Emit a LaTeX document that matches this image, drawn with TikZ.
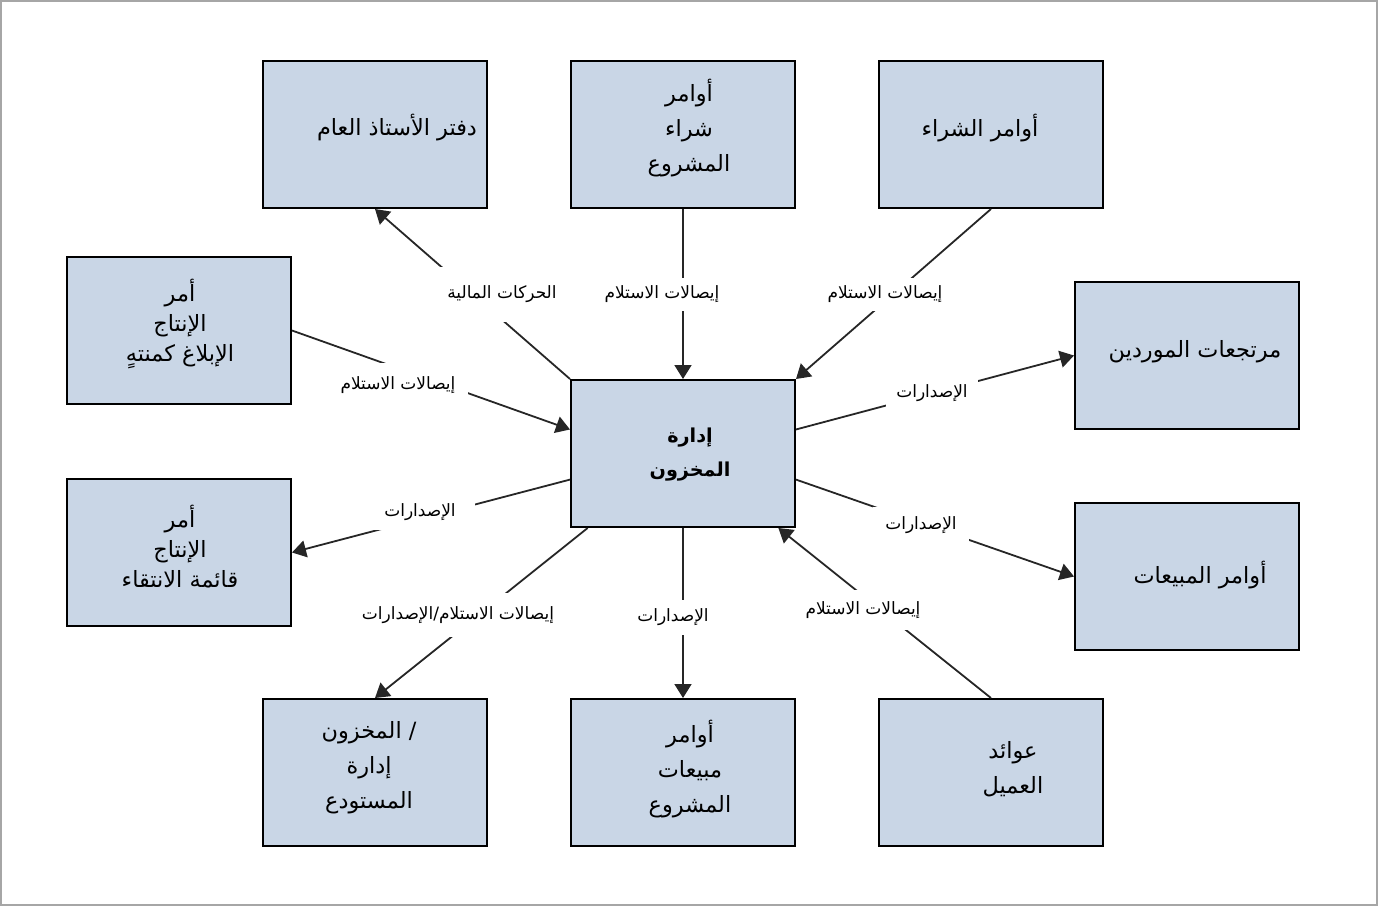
\documentclass[tikz,border=0pt]{standalone}
\usepackage{fontspec}
\setmainfont{DejaVu Sans}
\newfontfamily\arabicfont[Script=Arabic]{DejaVu Sans}
\TeXXeTstate=1
\usetikzlibrary{arrows.meta}
\definecolor{boxblue}{HTML}{C9D6E6}
\definecolor{framegray}{HTML}{A6A6A6}
\newcommand{\artxt}[1]{\beginR #1\endR}

\begin{document}
\begin{tikzpicture}[x=0.5pt,y=-0.5pt,
  >={Triangle[width=8.5pt,length=7pt]},
  box/.style={draw=black,line width=1pt,fill=boxblue,minimum width=112pt,minimum height=73.5pt,inner sep=0pt},
  boxtxt/.style={font=\arabicfont\fontsize{11.2}{17.5}\selectfont,align=center,inner sep=0pt},
  lbl/.style={fill=white,inner sep=0pt,font=\arabicfont\fontsize{8.5}{10}\selectfont},
  conn/.style={draw=black!85,line width=0.9pt}]
\useasboundingbox (0,0) rectangle (1378,906);
\draw[framegray,line width=1pt] (1,1) rectangle (1377,905);

\node[box] (gl) at (375,134.5) {};
\node[box] (ppo) at (683,134.5) {};
\node[box] (po) at (991,134.5) {};
\node[box] (pr) at (179,330.5) {};
\node[box] (pl) at (179,552.5) {};
\node[box] (c) at (683,453.5) {};
\node[box] (vr) at (1187,355.5) {};
\node[box] (so) at (1187,576.5) {};
\node[box] (w) at (375,772.5) {};
\node[box] (pso) at (683,772.5) {};
\node[box] (cr) at (991,772.5) {};

\node[boxtxt] (gl-t) at (397,128) {\artxt{دفتر الأستاذ العام}};
\node[boxtxt] (ppo-t) at (689,128) {\artxt{أوامر}\\\artxt{شراء}\\\artxt{المشروع}};
\node[boxtxt] (po-t) at (980,128) {\artxt{أوامر الشراء}};
\node[boxtxt,font=\arabicfont\fontsize{11.2}{15}\selectfont] (pr-t) at (180,324) {\artxt{أمر}\\\artxt{الإنتاج}\\\artxt{الإبلاغ كمنتهٍ}};
\node[boxtxt,font=\arabicfont\fontsize{11.2}{15}\selectfont] (pl-t) at (180,547) {\artxt{أمر}\\\artxt{الإنتاج}\\\artxt{قائمة الانتقاء}};
\node[boxtxt,font=\arabicfont\bfseries\fontsize{9.6}{17}\selectfont] (c-t) at (690,455) {\artxt{إدارة}\\\artxt{المخزون}};
\node[boxtxt] (vr-t) at (1195,352) {\artxt{مرتجعات الموردين}};
\node[boxtxt] (so-t) at (1200,575) {\artxt{أوامر المبيعات}};
\node[boxtxt] (w-t) at (369,768) {\artxt{/ المخزون}\\\artxt{إدارة}\\\artxt{المستودع}};
\node[boxtxt] (pso-t) at (690,769) {\artxt{أوامر}\\\artxt{مبيعات}\\\artxt{المشروع}};
\node[boxtxt] (cr-t) at (1013,769) {\artxt{عوائد}\\\artxt{العميل}};

\draw[conn,->] (c.north west) -- (gl.south);
\draw[conn,->] (ppo.south) -- (c.north);
\draw[conn,->] (po.south) -- (c.north east);
\draw[conn,->] (pr.east) -- (c.168);
\draw[conn,->] (c.193) -- (pl.east);
\draw[conn,->] (c.12) -- (vr.west);
\draw[conn,->] (c.347) -- (so.west);
\draw[conn,->] (c.218) -- (w.north);
\draw[conn,->] (c.south) -- (pso.north);
\draw[conn,->] (cr.north) -- (c.322);

\node[lbl,minimum width=62.5pt,minimum height=27.5pt] (l-gl) at (502,294.5) {\artxt{الحركات المالية}};
\node[lbl,minimum width=61pt,minimum height=16.5pt] (l-ppo) at (662,294.5) {\artxt{إيصالات الاستلام}};
\node[lbl,minimum width=61pt,minimum height=16.5pt] (l-po) at (885,294) {\artxt{إيصالات الاستلام}};
\node[lbl,minimum width=70pt,minimum height=22pt] (l-pr) at (398,385) {\artxt{إيصالات الاستلام}};
\node[lbl,minimum width=55pt,minimum height=18pt] (l-pl) at (420,512) {\artxt{الإصدارات}};
\node[lbl,minimum width=46pt,minimum height=15pt] (l-vr) at (932,393) {\artxt{الإصدارات}};
\node[lbl,minimum width=48pt,minimum height=18pt] (l-so) at (921,525) {\artxt{الإصدارات}};
\node[lbl,minimum width=103pt,minimum height=22pt] (l-w) at (458,615) {\artxt{إيصالات الاستلام/الإصدارات}};
\node[lbl,minimum width=42pt,minimum height=17.5pt] (l-pso) at (673,617.5) {\artxt{الإصدارات}};
\node[lbl,minimum width=61pt,minimum height=20pt] (l-cr) at (863,610) {\artxt{إيصالات الاستلام}};
\end{tikzpicture}
\end{document}
